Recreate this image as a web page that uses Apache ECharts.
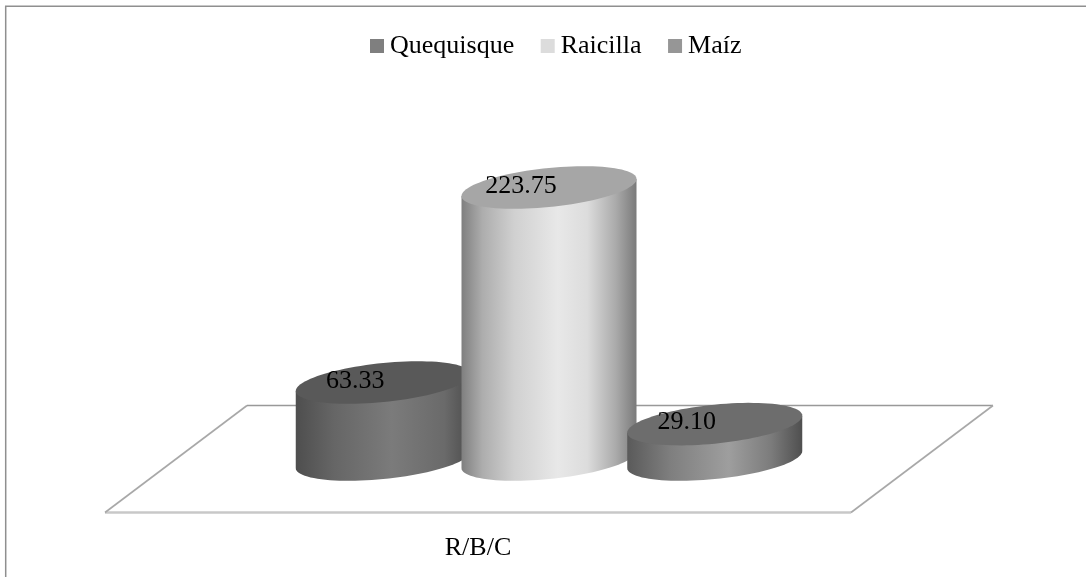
<!DOCTYPE html>
<html>
<head>
<meta charset="utf-8">
<style>html,body{margin:0;padding:0;background:#fff}#c{width:1086px;height:577px}</style>
<script src="https://cdn.jsdelivr.net/npm/echarts@6/dist/echarts.min.js"></script>
</head>
<body>
<div id="c"></div>
<script>
var categories = ['R/B/C'];
var seriesNames = ['Quequisque', 'Raicilla', 'Ma\u00edz'];
var quequisque = [63.33];
var raicilla = [223.75];
var maiz = [29.10];
var legendColors = ['#7f7f7f', '#dcdcdc', '#969696'];
var topColors = ['#595959', '#a6a6a6', '#6d6d6d'];
var sideStops = [
  [[0,'#4e4e4e'],[0.22,'#666666'],[0.55,'#7b7b7b'],[0.85,'#6a6a6a'],[1,'#4c4c4c']],
  [[0,'#7f7f7f'],[0.12,'#adadad'],[0.3,'#d0d0d0'],[0.55,'#e8e8e8'],[0.72,'#dcdcdc'],[0.88,'#ababab'],[1,'#7a7a7a']],
  [[0,'#5a5a5a'],[0.25,'#7f7f7f'],[0.58,'#9e9e9e'],[0.82,'#7c7c7c'],[1,'#4f4f4f']]
];
var font = '"Liberation Serif","Times New Roman",serif';
var fontSize = 26;

// projection constants (the pictured 3D view)
var halfDepthShift = 71, barSpacing = 165.75, rx = 87.5, tilt = 8.5, ry = 19.5;
var floorFrontDrop = 53, floorBackRise = 54;

function ringPoint(cx, cy, t) {
  return [cx + rx * Math.cos(t), cy - tilt * Math.cos(t) + ry * Math.sin(t)];
}

function barRender(idx) {
  return function (params, api) {
    var cat = api.value(0), val = api.value(1);
    var base = api.coord([cat, 0]);
    var top = api.coord([cat, val]);
    var cx = base[0] + halfDepthShift + (idx - 1) * barSpacing;
    var bodyPts = [[cx - rx, top[1] + tilt]], i, n = 48;
    for (i = 0; i <= n; i++) bodyPts.push(ringPoint(cx, base[1], Math.PI - Math.PI * i / n));
    bodyPts.push([cx + rx, top[1] - tilt]);
    var topPts = [];
    for (i = 0; i < 96; i++) topPts.push(ringPoint(cx, top[1], 2 * Math.PI * i / 96));
    return {
      type: 'group',
      children: [
        { type: 'polygon', shape: { points: bodyPts }, style: {
            fill: { type: 'linear', x: 0, y: 0, x2: 1, y2: 0, global: false,
                    colorStops: sideStops[idx].map(function (s) { return { offset: s[0], color: s[1] }; }) } } },
        { type: 'polygon', shape: { points: topPts }, style: { fill: topColors[idx] } },
        { type: 'text', x: cx - 28, y: top[1] - 1.5, style: {
            text: val.toFixed(2), fill: '#000', font: fontSize + 'px ' + font,
            align: 'center', verticalAlign: 'middle' } }
      ]
    };
  };
}

function floorRender(params, api) {
  var base = api.coord([0, 0]);
  var band = api.size([1, 0])[0];
  var l = base[0] - band / 2, r = base[0] + band / 2, shift = 2 * halfDepthShift;
  var fy = base[1] + floorFrontDrop, by = base[1] - floorBackRise;
  return {
    type: 'group',
    children: [
      { type: 'line', shape: { x1: l, y1: fy, x2: r, y2: fy }, style: { stroke: '#c8c8c8', lineWidth: 2.4 } },
      { type: 'line', shape: { x1: l + shift, y1: by, x2: r + shift, y2: by }, style: { stroke: '#999999', lineWidth: 1.6 } },
      { type: 'line', shape: { x1: l, y1: fy, x2: l + shift, y2: by }, style: { stroke: '#a8a8a8', lineWidth: 1.6 } },
      { type: 'line', shape: { x1: r, y1: fy, x2: r + shift, y2: by }, style: { stroke: '#a8a8a8', lineWidth: 1.6 } }
    ]
  };
}

var allValues = [quequisque, raicilla, maiz];
var series = [{
  type: 'custom', name: 'floor', renderItem: floorRender, silent: true,
  encode: { x: 0, y: 1 }, data: [[0, 0]], z: 1
}];
seriesNames.forEach(function (name, i) {
  series.push({
    type: 'custom', name: name, renderItem: barRender(i), silent: true,
    encode: { x: 0, y: 1 }, z: 2 + i,
    itemStyle: { color: legendColors[i] },
    data: allValues[i].map(function (v, k) { return [k, v]; })
  });
});

var chart = echarts.init(document.getElementById('c'), null, { renderer: 'canvas' });
chart.setOption({
  animation: false,
  backgroundColor: '#fff',
  graphic: [{ type: 'rect', silent: true, z: 0,
    shape: { x: 5.7, y: 6.2, width: 1300, height: 800 },
    style: { fill: 'none', stroke: '#8f8f8f', lineWidth: 1.5 } }],
  legend: {
    data: seriesNames, left: 370, top: 33, padding: 0, itemWidth: 14, itemHeight: 14, itemGap: 26.5,
    icon: 'rect',
    textStyle: { color: '#000', fontFamily: font, fontSize: fontSize, padding: [10, 0, 0, 1] }
  },
  grid: { left: 105, right: 235, top: 155.6, bottom: 117.5 },
  xAxis: { type: 'category', data: categories,
    axisLine: { show: false }, axisTick: { show: false }, splitLine: { show: false },
    axisLabel: { margin: 76, color: '#000', fontFamily: font, fontSize: fontSize } },
  yAxis: { type: 'value', min: 0, max: 250, show: false, splitLine: { show: false } },
  series: series
});
</script>
</body>
</html>
